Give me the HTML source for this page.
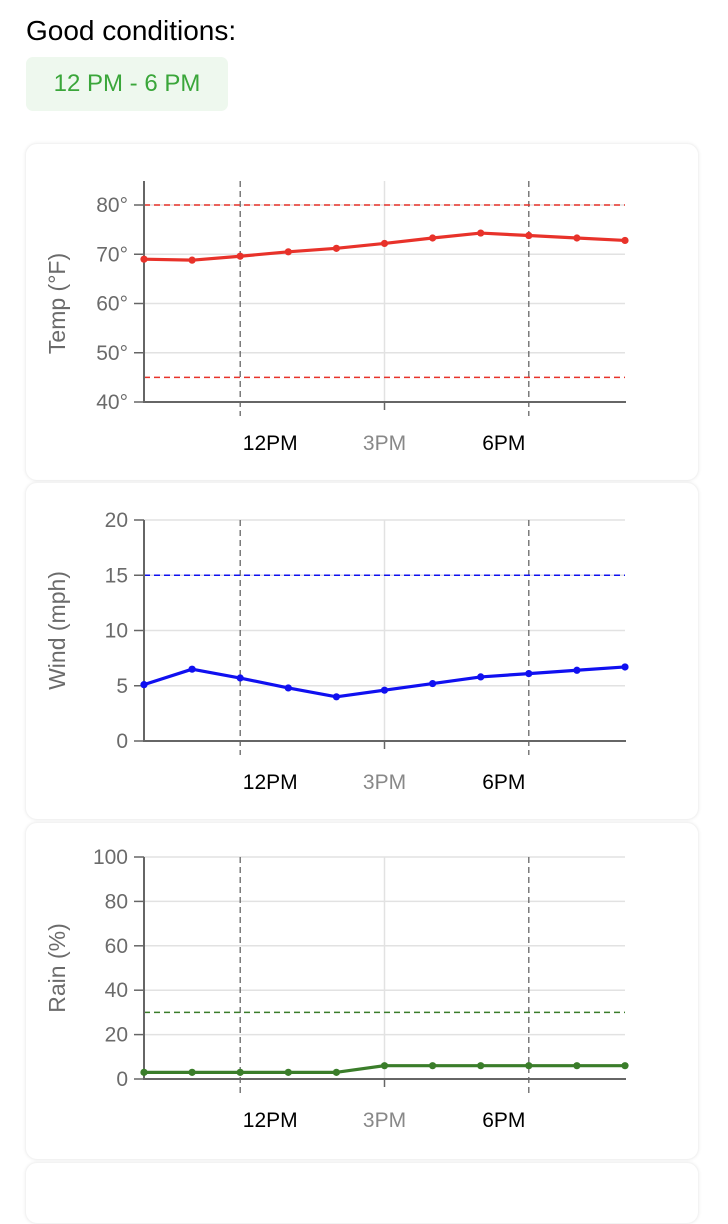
<!DOCTYPE html>
<html><head><meta charset="utf-8"><style>
body{margin:0;width:728px;height:1182px;background:#fff;font-family:"Liberation Sans",sans-serif;overflow:hidden;position:relative}
.h{position:absolute;left:26px;top:15px;font-size:28px;color:#000}
.badge{position:absolute;left:26px;top:57px;width:202px;height:54px;background:#eef8ee;border-radius:7px;color:#3aa63a;font-size:24px;line-height:54px;text-align:center}
.card{position:absolute;left:25px;width:672px;background:#fff;border-radius:12px;box-shadow:0 0 3px rgba(0,0,0,.07);border:1px solid #f3f3f3}
svg{position:absolute;left:0;top:0}
</style></head><body>
<div class="h">Good conditions:</div>
<div class="badge">12 PM - 6 PM</div>
<div class="card" style="top:143px;height:336px"></div>
<div class="card" style="top:482px;height:336px"></div>
<div class="card" style="top:822px;height:336px"></div>
<div class="card" style="top:1162px;height:60px"></div>
<svg id="s" width="728" height="1182"></svg>
<script>
const hours=[10,11,12,13,14,15,16,17,18,19,20];
const tempValues=[69.0,68.8,69.6,70.5,71.2,72.2,73.3,74.3,73.8,73.3,72.8];
const windValues=[5.1,6.5,5.7,4.8,4.0,4.6,5.2,5.8,6.1,6.4,6.7];
const rainValues=[3,3,3,3,3,6,6,6,6,6,6];
const tempTicks=[40,50,60,70,80];
const windTicks=[0,5,10,15,20];
const rainTicks=[0,20,40,60,80,100];
const tempLimits=[80,45];
const windLimits=[15];
const rainLimits=[30];
const xLabels=[{h:12,t:"12PM",c:"#000"},{h:15,t:"3PM",c:"#888"},{h:18,t:"6PM",c:"#000"}];
const NS="http://www.w3.org/2000/svg";
const svg=document.getElementById('s');
function mk(tag,a,parent){const e=document.createElementNS(NS,tag);for(const k in a)e.setAttribute(k,a[k]);(parent||svg).appendChild(e);return e;}
function chart(name,vals,ticks,limits,min,max,top,bot,color,lcolor,title,suffix,axTop){
 const g=mk('g',{});
 
 
 const x=h=>144+(h-10)*48.1;
 const y=v=>bot-(v-min)/(max-min)*(bot-top);
 ticks.forEach(t=>{
  const l=mk('line',{x1:144,x2:625,y1:y(t),y2:y(t),stroke:'#e2e2e2','stroke-width':1.5},g);
  
  mk('line',{x1:134,x2:144,y1:y(t),y2:y(t),stroke:'#666','stroke-width':1.5},g);
  const tx=mk('text',{x:128,y:y(t)+7,'text-anchor':'end','font-size':21,fill:'#6b6b6b'},g);
  tx.textContent=t+suffix;
  
 });
 mk('line',{x1:x(15),x2:x(15),y1:axTop,y2:bot,stroke:'#e2e2e2','stroke-width':1.5},g);
 [12,18].forEach(h=>mk('line',{x1:x(h),x2:x(h),y1:axTop,y2:bot+14,stroke:'#666','stroke-width':1.3,'stroke-dasharray':'6,4'},g));
 mk('line',{x1:x(15),x2:x(15),y1:bot,y2:bot+8,stroke:'#666','stroke-width':1.5},g);
 limits.forEach(v=>{const l=mk('line',{x1:144,x2:625,y1:y(v),y2:y(v),stroke:lcolor,'stroke-width':1.5,'stroke-dasharray':'6,4'},g);
  });
 mk('line',{x1:144,x2:144,y1:axTop,y2:bot,stroke:'#666','stroke-width':2},g);
 mk('line',{x1:143,x2:626,y1:bot,y2:bot,stroke:'#666','stroke-width':2},g);
 const p=mk('polyline',{points:vals.map((v,i)=>x(hours[i])+','+y(v)).join(' '),fill:'none',stroke:color,'stroke-width':3.2,'stroke-linejoin':'round'},g);
 
 vals.forEach((v,i)=>{const c=mk('circle',{cx:x(hours[i]),cy:y(v),r:3.6,fill:color},g);
  });
 const offs={12:30,15:0,18:-25};
 xLabels.forEach(o=>{const t=mk('text',{x:x(o.h)+offs[o.h],y:bot+48,'text-anchor':'middle','font-size':21,fill:o.c},g);t.textContent=o.t;
  });
 const cy=(top+bot)/2;
 const tt=mk('text',{x:0,y:0,'text-anchor':'middle','font-size':23,fill:'#6b6b6b',transform:`translate(65,${cy}) rotate(-90)`},g);
 tt.textContent=title;
}
chart('temp',tempValues,tempTicks,tempLimits,40,80,205,402,'#e8322a','#e8322a','Temp (°F)','°',181);
chart('wind',windValues,windTicks,windLimits,0,20,520,741,'#1010f0','#1010f0','Wind (mph)','',520);
chart('rain',rainValues,rainTicks,rainLimits,0,100,857,1079,'#3a7d2a','#3a7d2a','Rain (%)','',857);
</script>
</body></html>
